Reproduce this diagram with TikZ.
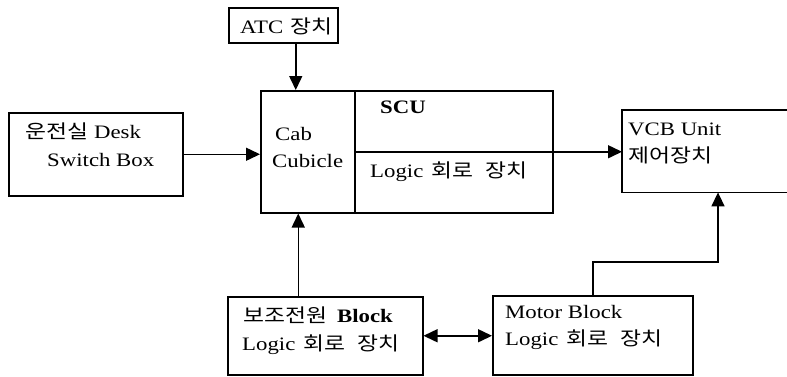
\documentclass[tikz,border=0pt]{standalone}
\usepackage{fontspec}
\setmainfont{Liberation Serif}[FakeStretch=1.2]
\newfontfamily\kr{Noto Sans CJK KR}[FakeStretch=1.2]
\usetikzlibrary{arrows.meta}
\begin{document}
\begin{tikzpicture}[x=1pt,y=-1pt,
  box/.style={draw, line width=1.5pt, inner sep=0pt, anchor=north west},
  openbox/.style={inner sep=0pt, anchor=north west},
  lbl/.style={anchor=base west, inner sep=0pt, font=\fontsize{19}{22}\selectfont},
  conn/.style={line width=1.5pt, -{Triangle[length=14pt,width=13pt]}},
  dconn/.style={line width=1.5pt, {Triangle[length=14pt,width=13pt]}-{Triangle[length=14pt,width=13pt]}}]
\useasboundingbox (0,0) rectangle (787,376);
% boxes
\node[box, minimum width=174pt, minimum height=83pt] (desk) at (8,112) {};
\node[box, minimum width=109pt, minimum height=35pt] (atc) at (228,7) {};
\node[box, minimum width=94pt, minimum height=122pt] (cab) at (260,90) {};
\node[box, minimum width=198pt, minimum height=122pt] (scu) at (354,90) {};
\draw[line width=1.5pt] (scu.west) -- (scu.east);
\node[openbox, minimum width=166pt, minimum height=82pt] (vcb) at (622,110) {};
\draw[line width=1.5pt] (vcb.north east) -- (vcb.north west) -- (vcb.south west) -- (vcb.south east);
\node[box, minimum width=195pt, minimum height=78pt] (aux) at (227,296) {};
\node[box, minimum width=200pt, minimum height=79pt] (motor) at (492,295) {};
% texts
\node[lbl] (t1) at (25,138) {{\kr 운전실}\hspace{6pt}Desk};
\node[lbl] (t2) at (47,166) {Switch Box};
\node[lbl] (t3) at (240,33) {ATC\hspace{7pt}{\kr 장치}};
\node[lbl] (t4) at (275,140) {Cab};
\node[lbl] (t5) at (272,167) {Cubicle};
\node[lbl] (t6) at (380,113) {\textbf{SCU}};
\node[lbl] (t7) at (370,177) {Logic\hspace{8pt}{\kr 회로\hspace{12pt}장치}};
\node[lbl] (t8) at (628,135) {VCB Unit};
\node[lbl] (t9) at (628,162) {\kr 제어장치};
\node[lbl] (t10) at (243,322) {{\kr 보조전원}\hspace{10pt}\textbf{Block}};
\node[lbl] (t11) at (242,350) {Logic\hspace{8pt}{\kr 회로\hspace{12pt}장치}};
\node[lbl] (t12) at (505,318) {Motor Block};
\node[lbl] (t13) at (505,345) {Logic\hspace{8pt}{\kr 회로\hspace{12pt}장치}};
% connectors
\draw[conn] ([xshift=12.5pt]atc.south) -- ([xshift=12.5pt]atc.south |- cab.north);
\draw[conn] (desk.east) -- (desk.east -| cab.west);
\draw[conn] (scu.east) -- (scu.east -| vcb.west);
\draw[conn] ([xshift=-27pt]aux.north) -- ([xshift=-27pt]aux.north |- cab.south);
\draw[dconn] (aux.east) -- (aux.east -| motor.west);
\coordinate (bend) at (718,262);
\draw[conn] (motor.north) |- (bend) -- (bend |- vcb.south);
\end{tikzpicture}
\end{document}
